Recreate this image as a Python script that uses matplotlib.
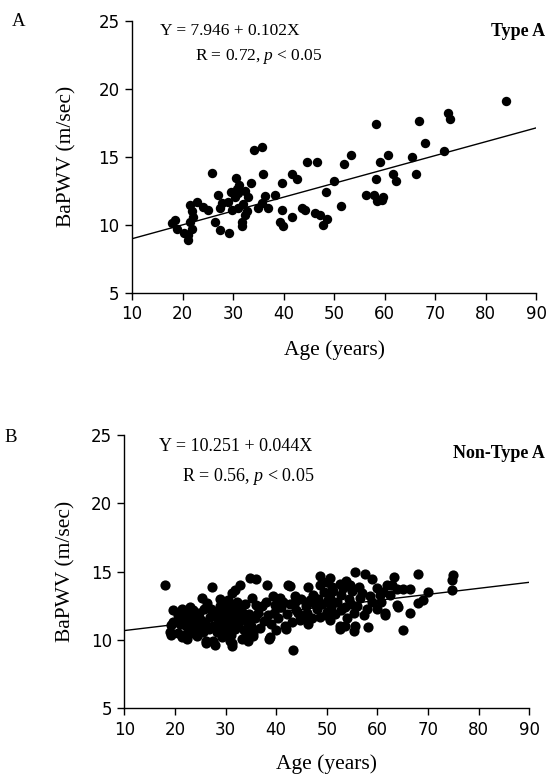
import matplotlib
matplotlib.use("Agg")
import matplotlib.pyplot as plt
import numpy as np

# Type A group: age (years) and BaPWV (m/sec)
age_a = [84.0, 72.6, 73.0, 66.8, 58.3, 68.0, 71.8, 65.5, 60.6, 59.1, 53.3, 52.0,
         44.6, 46.7, 50.0, 48.4, 51.3, 58.3, 61.6, 62.3, 66.2, 56.3, 57.9, 59.6,
         58.5, 59.4, 41.6, 42.6, 39.6, 34.2, 35.7, 25.9, 30.5, 36.0, 33.5, 31.2,
         27.1, 29.5, 30.3, 31.0, 32.3, 33.0, 30.8, 38.3, 36.3, 35.7, 35.0, 37.0,
         27.8, 27.4, 29.0, 29.7, 31.0, 32.0, 32.7, 32.4, 39.6, 41.6, 43.6, 44.3,
         39.3, 39.9, 46.2, 47.2, 31.7, 31.7, 26.4, 27.4, 29.1, 22.8, 21.5, 21.8,
         22.1, 21.5, 21.8, 21.1, 24.1, 25.1, 18.5, 17.9, 18.9, 20.2, 48.5, 47.8,
         21.0]
pwv_a = [19.1, 18.2, 17.8, 17.6, 17.4, 16.0, 15.4, 14.95, 15.1, 14.6, 15.1, 14.5,
         14.6, 14.6, 13.2, 12.4, 11.4, 13.35, 13.7, 13.25, 13.7, 12.2, 12.2, 12.0,
         11.75, 11.8, 13.7, 13.35, 13.1, 15.5, 15.75, 13.8, 13.4, 13.7, 13.1, 12.9,
         12.2, 12.4, 12.0, 12.3, 12.5, 12.0, 12.6, 12.2, 12.1, 11.6, 11.2, 11.2,
         11.6, 11.2, 11.7, 11.1, 11.2, 11.5, 11.0, 10.7, 11.1, 10.6, 11.2, 11.1,
         10.2, 9.9, 10.85, 10.7, 10.2, 9.9, 10.2, 9.6, 9.4, 11.7, 11.45, 11.0,
         10.6, 10.2, 9.7, 9.25, 11.3, 11.1, 10.35, 10.1, 9.7, 9.4, 10.4, 10.0,
         8.85]

# Non-Type A group
age_b = [18.0, 19.2, 19.2, 19.6, 19.6, 19.0, 20.6, 21.3, 21.3, 21.9, 22.3, 22.9,
         23.6, 23.6, 24.3, 24.4, 25.3, 25.6, 26.1, 26.2, 27.4, 27.6, 27.8, 28.9,
         29.2, 30.5, 30.9, 31.2, 31.3, 31.2, 31.9, 32.8, 33.2, 34.4, 34.5, 34.8,
         35.2, 35.4, 35.5, 36.1, 36.1, 38.1, 38.5, 38.8, 39.4, 39.8, 40.8, 41.8,
         42.0, 42.4, 43.3, 42.7, 43.7, 44.0, 44.7, 46.0, 46.3, 46.3, 47.3, 48.0,
         48.7, 48.7, 48.7, 50.0, 50.6, 50.6, 50.6, 52.6, 52.6, 52.7, 52.9, 52.9,
         53.6, 55.3, 55.4, 55.6, 55.6, 56.3, 56.6, 57.6, 57.9, 58.2, 58.6, 58.9,
         59.9, 60.5, 61.5, 61.6, 61.9, 62.5, 62.8, 63.2, 63.8, 63.8, 64.1, 65.1,
         65.1, 66.5, 66.5, 68.1, 68.1, 69.1, 70.1, 74.7, 74.7, 75.0,
         20.5, 21.0, 21.8, 22.2, 22.6, 23.0, 23.4, 24.0, 24.2, 24.8, 25.0, 25.4,
         25.8, 26.0, 26.4, 26.8, 27.0, 27.2, 27.6, 28.0, 28.3, 28.5, 28.8, 29.0,
         29.4, 29.6, 29.8, 30.0, 30.2, 30.4, 30.6, 30.8, 31.0, 31.4, 31.6, 31.8,
         32.0, 32.2, 32.4, 32.6, 33.0, 33.4, 33.6, 33.8, 34.2, 34.6, 35.0, 35.8,
         36.4, 36.8, 37.2, 37.6, 38.0, 38.4, 39.0, 39.6, 40.0, 40.4, 41.0, 41.4,
         42.2, 42.8, 43.2, 43.8, 44.4, 45.0, 45.4, 45.8, 46.6, 47.0, 47.6, 48.2,
         49.0, 49.4, 49.8, 50.2, 50.8, 51.2, 51.6, 52.0, 53.2, 53.6, 54.0, 54.4,
         54.8, 55.0, 56.0, 57.0, 57.4, 59.0, 60.0, 60.8, 61.2, 50.0, 51.0, 53.8,
         54.5]
pwv_b = [14.0, 10.4, 11.1, 12.2, 11.3, 10.6, 10.5, 10.2, 12.3, 10.4, 10.05, 12.4,
         12.2, 10.5, 10.4, 10.3, 13.1, 10.6, 9.8, 9.9, 13.9, 9.9, 9.65, 13.0,
         10.25, 12.9, 9.9, 9.75, 9.55, 13.4, 13.65, 14.0, 10.1, 9.9, 10.25, 14.5,
         13.05, 10.3, 10.5, 14.45, 12.55, 14.0, 10.05, 10.25, 13.2, 12.55, 13.05, 11.0,
         10.8, 14.0, 9.3, 13.95, 13.2, 12.2, 11.45, 11.95, 13.85, 11.2, 13.3, 12.3,
         14.7, 14.0, 11.7, 12.05, 14.5, 13.05, 11.45, 14.1, 11.0, 10.8, 13.3, 12.2,
         11.0, 11.95, 10.65, 14.95, 11.0, 13.9, 13.05, 14.8, 12.3, 10.95, 13.2, 14.45,
         12.3, 13.3, 11.95, 11.8, 14.0, 13.3, 14.0, 14.6, 13.75, 12.55, 12.4, 10.75,
         13.75, 13.75, 12.0, 14.85, 12.7, 12.9, 13.5, 13.65, 14.4, 14.75,
         11.8, 11.2, 11.6, 11.0, 11.8, 10.9, 11.4, 11.8, 11.0, 12.0, 11.5, 10.9,
         12.3, 11.3, 12.7, 10.8, 11.7, 12.3, 11.0, 12.0, 10.6, 11.5, 12.5, 11.0,
         11.8, 12.4, 10.6, 11.3, 12.0, 10.9, 11.6, 12.6, 10.4, 11.2, 12.2, 10.8,
         11.7, 12.8, 11.0, 12.3, 11.5, 12.0, 10.7, 12.6, 11.3, 11.9, 11.0, 11.6,
         12.0, 10.9, 12.5, 11.4, 12.8, 11.8, 11.2, 12.0, 10.7, 11.6, 12.4, 12.8,
         11.9, 12.6, 11.3, 12.8, 12.0, 13.0, 11.6, 12.5, 12.9, 11.6, 12.6, 13.0,
         12.6, 13.5, 11.8, 12.9, 12.4, 13.6, 11.9, 12.8, 13.8, 12.4, 11.6, 13.0,
         12.6, 13.6, 12.5, 13.4, 11.8, 12.8, 13.8, 12.8, 13.5, 14.2, 13.9, 14.3,
         14.0]

# regression lines
fit_a = (7.946, 0.102)
fit_b = (10.251, 0.044)

xticks = [10, 20, 30, 40, 50, 60, 70, 80, 90]
yticks = [5, 10, 15, 20, 25]

plt.rcParams['font.family'] = ['Liberation Serif', 'DejaVu Serif']
plt.rcParams['mathtext.fontset'] = 'custom'
plt.rcParams['mathtext.rm'] = 'Liberation Serif'
plt.rcParams['mathtext.it'] = 'Liberation Serif:italic'

W, H = 546, 776
fig = plt.figure(figsize=(W / 100, H / 100), dpi=100)


def px(x, y):
    return x / W, 1 - y / H


tick_font = ['Liberation Sans Narrow', 'DejaVu Sans']


def panel(rect, ages, pwv, fit, size, xlab_y, ylab_x):
    ax = fig.add_axes(rect)
    ax.scatter(ages, pwv, s=size, color='black', linewidths=0, zorder=3)
    xs = np.array([10, 90])
    ax.plot(xs, fit[0] + fit[1] * xs, color='black', lw=1.0, zorder=2)
    ax.set_xlim(10, 90)
    ax.set_ylim(5, 25)
    ax.set_xticks(xticks)
    ax.set_yticks(yticks)
    for s in ['top', 'right']:
        ax.spines[s].set_visible(False)
    for s in ['left', 'bottom']:
        ax.spines[s].set_linewidth(1.0)
    ax.tick_params(direction='out', length=5, width=1.0, labelsize=12, pad=4)
    for lab in ax.get_xticklabels() + ax.get_yticklabels():
        lab.set_family(tick_font)
    ax.set_xlabel('Age (years)', fontsize=15.5)
    ax.set_ylabel('BaPWV (m/sec)', fontsize=15.5)
    ax.xaxis.set_label_coords(0.5, xlab_y)
    ax.yaxis.set_label_coords(ylab_x, 0.5)
    return ax


panel([0.242, 0.623, 0.740, 0.350], age_a, pwv_a, fit_a, 46, -0.175, -0.138)
panel([0.228, 0.087, 0.741, 0.353], age_b, pwv_b, fit_b, 54, -0.168, -0.12)

# panel A texts
fig.text(*px(12, 21), 'A', fontsize=13.5, va='center', ha='left')
fig.text(*px(230, 31), 'Y = 7.946 + 0.102X', fontsize=12.5, va='center', ha='center')
fig.text(*px(259, 56), r'R = 0.72, $p$ < 0.05', fontsize=12.5, va='center', ha='center')
fig.text(*px(545, 31), 'Type A', fontsize=13, fontweight='bold', va='center', ha='right')

# panel B texts
fig.text(*px(4, 437), 'B', fontsize=13.5, va='center', ha='left')
fig.text(*px(236, 447), 'Y = 10.251 + 0.044X', fontsize=13, va='center', ha='center')
fig.text(*px(248, 476), r'R = 0.56, $p$ < 0.05', fontsize=13, va='center', ha='center')
fig.text(*px(545, 453), 'Non-Type A', fontsize=13, fontweight='bold', va='center', ha='right')

fig.savefig('out.png', dpi=100)
